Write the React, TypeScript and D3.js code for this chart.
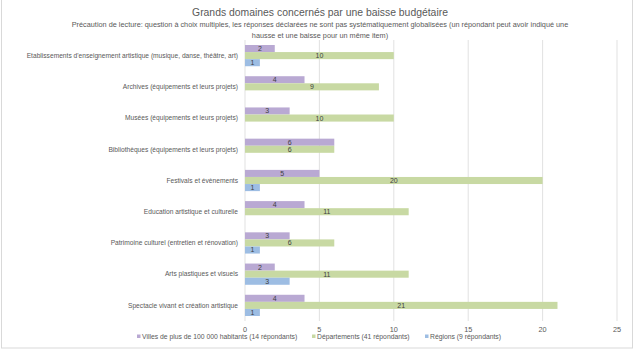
import * as d3 from "d3";
import { useEffect, useRef } from "react";

const categories = [
  "Etablissements d'enseignement artistique (musique, danse, théâtre, art)",
  "Archives (équipements et leurs projets)",
  "Musées (équipements et leurs projets)",
  "Bibliothèques (équipements et leurs projets)",
  "Festivals et évènements",
  "Education artistique et culturelle",
  "Patrimoine culturel (entretien et rénovation)",
  "Arts plastiques et visuels",
  "Spectacle vivant et création artistique",
];

const villes = [2, 4, 3, 6, 5, 4, 3, 2, 4];
const departements = [10, 9, 10, 6, 20, 11, 6, 11, 21];
const regions: (number | null)[] = [1, null, null, null, 1, null, 1, 3, 1];

const seriesNames = [
  "Villes de plus de 100 000 habitants (14 répondants)",
  "Départements (41 répondants)",
  "Régions (9 répondants)",
];
const colors = ["#b9a9d3", "#c8d9a3", "#9dbde3"];
const xTicks = [0, 5, 10, 15, 20, 25];

const FONT = "'Liberation Sans', Arial, sans-serif";

const BarChart = () => {
  const ref = useRef<SVGSVGElement | null>(null);

  useEffect(() => {
    if (!ref.current) return;
    const svg = d3.select(ref.current);
    svg.selectAll("*").remove();
    const width = 640;
    const height = 353;
    const margin = { top: 40, right: 23, bottom: 32, left: 245 };

    svg.attr("width", width).attr("height", height);

    svg
      .append("rect")
      .attr("x", 1.5)
      .attr("y", -5)
      .attr("width", 631)
      .attr("height", 353)
      .attr("fill", "#fff")
      .attr("stroke", "#d9d9d9");

    const x = d3.scaleLinear().domain([0, 25]).range([margin.left, width - margin.right]);
    const y = d3
      .scaleBand<string>()
      .domain(categories)
      .range([margin.top, height - margin.bottom])
      .paddingInner(0.32)
      .paddingOuter(0.16);
    const inner = d3
      .scaleBand<number>()
      .domain([0, 1, 2])
      .range([0, y.bandwidth()]);

    svg
      .append("text")
      .attr("x", 320)
      .attr("y", 16)
      .attr("text-anchor", "middle")
      .attr("font-family", FONT)
      .attr("font-size", 10.4)
      .attr("fill", "#595959")
      .text("Grands domaines concernés par une baisse budgétaire");

    const sub = svg
      .append("text")
      .attr("text-anchor", "middle")
      .attr("font-family", FONT)
      .attr("font-size", 7.3)
      .attr("fill", "#595959");
    sub
      .append("tspan")
      .attr("x", 320)
      .attr("y", 27)
      .text(
        "Précaution de lecture: question à choix multiples, les réponses déclarées ne sont pas systématiquement globalisées (un répondant peut avoir indiqué une"
      );
    sub.append("tspan").attr("x", 320).attr("y", 38).text("hausse et une baisse pour un même item)");

    // grid
    svg
      .append("g")
      .selectAll("line")
      .data(xTicks)
      .join("line")
      .attr("x1", (d) => x(d))
      .attr("x2", (d) => x(d))
      .attr("y1", margin.top)
      .attr("y2", height - margin.bottom)
      .attr("stroke", "#d9d9d9")
      .attr("stroke-width", 0.8);

    svg
      .append("g")
      .selectAll("text")
      .data(xTicks)
      .join("text")
      .attr("x", (d) => x(d))
      .attr("y", 332)
      .attr("text-anchor", "middle")
      .attr("font-family", FONT)
      .attr("font-size", 7.3)
      .attr("fill", "#595959")
      .text((d) => d);

    // category labels
    svg
      .append("g")
      .selectAll("text")
      .data(categories)
      .join("text")
      .attr("x", margin.left - 7)
      .attr("y", (d) => y(d)! + y.bandwidth() / 2)
      .attr("dy", "0.35em")
      .attr("text-anchor", "end")
      .attr("font-family", FONT)
      .attr("font-size", 6.65)
      .attr("fill", "#595959")
      .text((d) => d);

    const series = [villes, departements, regions];
    series.forEach((vals, si) => {
      const g = svg.append("g");
      const items = categories
        .map((c, i) => ({ c, v: vals[i] }))
        .filter((d) => d.v != null) as { c: string; v: number }[];
      g.selectAll("rect")
        .data(items)
        .join("rect")
        .attr("x", x(0))
        .attr("y", (d) => y(d.c)! + inner(si)!)
        .attr("width", (d) => x(d.v) - x(0))
        .attr("height", inner.bandwidth())
        .attr("fill", colors[si]);
      g.selectAll("text")
        .data(items)
        .join("text")
        .attr("x", (d) => (x(0) + x(d.v)) / 2)
        .attr("y", (d) => y(d.c)! + inner(si)! + inner.bandwidth() / 2)
        .attr("dy", "0.35em")
        .attr("text-anchor", "middle")
        .attr("font-family", FONT)
        .attr("font-size", 7)
        .attr("fill", "#404040")
        .text((d) => d.v);
    });

    // legend
    const legendX = [137, 312, 425];
    const lg = svg
      .append("g")
      .selectAll("g")
      .data(seriesNames)
      .join("g")
      .attr("transform", (_, i) => `translate(${legendX[i]},336.5)`);
    lg.append("rect")
      .attr("x", 0)
      .attr("y", -2)
      .attr("width", 3.5)
      .attr("height", 3.5)
      .attr("fill", (_, i) => colors[i]);
    lg.append("text")
      .attr("x", 5)
      .attr("y", 0)
      .attr("dy", "0.3em")
      .attr("font-family", FONT)
      .attr("font-size", 6.8)
      .attr("fill", "#595959")
      .text((d) => d);
  }, []);

  return <svg ref={ref} style={{ position: "absolute", left: 0, top: 0, display: "block" }}></svg>;
};

export default function App() {
  return <BarChart />;
}
